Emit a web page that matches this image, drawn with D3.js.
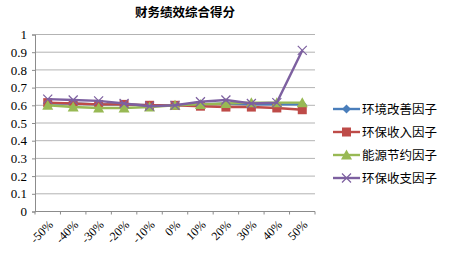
<!DOCTYPE html>
<html><head><meta charset="utf-8">
<script src="https://cdn.jsdelivr.net/npm/d3@7"></script>
<style>body{margin:0;background:#fff}svg{display:block}</style>
</head><body>
<svg id="c" width="453" height="254"></svg>
<script>
const categories = ["-50%","-40%","-30%","-20%","-10%","0%","10%","20%","30%","40%","50%"];
const seriesNames = ["环境改善因子","环保收入因子","能源节约因子","环保收支因子"];
const env = [0.61,0.61,0.605,0.605,0.60,0.60,0.605,0.61,0.605,0.605,0.605];
const income = [0.615,0.61,0.605,0.605,0.60,0.60,0.595,0.59,0.59,0.585,0.575];
const energy = [0.60,0.59,0.585,0.585,0.59,0.60,0.605,0.61,0.615,0.615,0.615];
const balance = [0.635,0.63,0.625,0.61,0.595,0.60,0.62,0.63,0.61,0.615,0.91];
const yTicks = [0,0.1,0.2,0.3,0.4,0.5,0.6,0.7,0.8,0.9,1];
const colors = ["#4a7ebb","#be4b48","#98b954","#7d60a0"];
const markers = ["diamond","square","triangle","x"];
const series = [env, income, energy, balance];

const svg = d3.select("#c");
const L = 35, R = 315, T = 34.5, B = 211.5;
const x = d3.scaleBand().domain(categories).range([L, R]);
const y = d3.scaleLinear().domain([0,1]).range([B, T]);

svg.append("text").attr("x",185).attr("y",17).attr("text-anchor","middle")
  .attr("font-family","Noto Sans CJK SC").attr("font-weight","bold").attr("font-size",12.5)
  .text("财务绩效综合得分");

// gridlines
svg.append("g").selectAll("line").data(yTicks.slice(1)).join("line")
  .attr("x1",L).attr("x2",R).attr("y1",d=>y(d)).attr("y2",d=>y(d))
  .attr("stroke","#b3b3b3").attr("stroke-width",1);

// y axis
const ya = svg.append("g").attr("transform",`translate(${L},0)`)
  .call(d3.axisLeft(y).tickValues(yTicks).tickSize(3).tickPadding(5).tickFormat(d=>String(d)));
ya.select(".domain").attr("stroke","#8c8c8c");
ya.selectAll(".tick line").attr("stroke","#8c8c8c");
ya.selectAll("text").attr("font-family","Liberation Serif").attr("font-size",13).attr("fill","#000");

// x axis
const xa = svg.append("g").attr("transform",`translate(0,${B})`);
xa.append("line").attr("x1",L).attr("x2",R).attr("stroke","#8c8c8c");
const bounds = categories.map(c=>x(c)).concat([R]);
xa.selectAll("line.t").data(bounds).join("line").attr("class","t")
  .attr("x1",d=>d).attr("x2",d=>d).attr("y1",0).attr("y2",3).attr("stroke","#8c8c8c");
xa.selectAll("text").data(categories).join("text")
  .attr("transform",d=>`translate(${x(d)+x.bandwidth()/2+6},${14}) rotate(-45)`)
  .attr("text-anchor","end").attr("font-family","Liberation Serif").attr("font-size",12)
  .text(d=>d);

function drawMarker(g, type, cx, cy, color){
  if(type==="diamond"){
    g.append("path").attr("d",`M${cx},${cy-4.5}L${cx+4.5},${cy}L${cx},${cy+4.5}L${cx-4.5},${cy}Z`).attr("fill",color);
  } else if(type==="square"){
    g.append("rect").attr("x",cx-4.5).attr("y",cy-4.5).attr("width",9).attr("height",9).attr("fill",color);
  } else if(type==="triangle"){
    g.append("path").attr("d",`M${cx},${cy-5.5}L${cx+5.5},${cy+4.5}L${cx-5.5},${cy+4.5}Z`).attr("fill",color);
  } else {
    g.append("path").attr("d",`M${cx-4.5},${cy-4.5}L${cx+4.5},${cy+4.5}M${cx-4.5},${cy+4.5}L${cx+4.5},${cy-4.5}`)
      .attr("stroke",color).attr("stroke-width",1.2);
  }
}

const line = d3.line().x((d,i)=>x(categories[i])+x.bandwidth()/2).y(d=>y(d));
series.forEach((s,k)=>{
  const g = svg.append("g");
  g.append("path").datum(s).attr("d",line).attr("fill","none")
    .attr("stroke",colors[k]).attr("stroke-width",2.4);
  s.forEach((v,i)=>drawMarker(g, markers[k], x(categories[i])+x.bandwidth()/2, y(v), colors[k]));
});

// legend
const lg = svg.append("g");
seriesNames.forEach((n,k)=>{
  const ly = 109 + k*23;
  lg.append("line").attr("x1",333).attr("x2",360).attr("y1",ly).attr("y2",ly)
    .attr("stroke",colors[k]).attr("stroke-width",2.4);
  drawMarker(lg, markers[k], 346.5, ly, colors[k]);
  lg.append("text").attr("x",362).attr("y",ly+4.5).attr("font-family","Noto Sans CJK SC")
    .attr("font-size",12.5).text(n);
});
</script>
</body></html>
